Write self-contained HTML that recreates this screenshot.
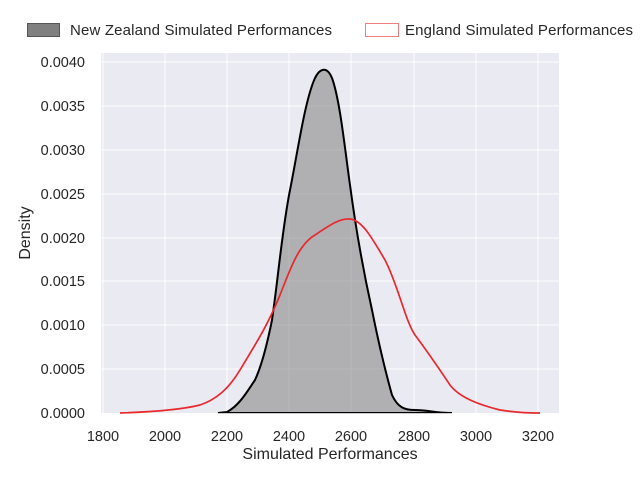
<!DOCTYPE html><html><head><style>body{margin:0;background:#fff}svg{font-family:"Liberation Sans",Arial,sans-serif}</style></head><body>
<svg width="640" height="480" viewBox="0 0 640 480">
<rect x="101" y="53" width="458" height="360" fill="#eaeaf2"/>
<g stroke="#fff" stroke-width="1">
<line x1="103" y1="53" x2="103" y2="413"/><line x1="165" y1="53" x2="165" y2="413"/><line x1="227" y1="53" x2="227" y2="413"/><line x1="289" y1="53" x2="289" y2="413"/><line x1="351" y1="53" x2="351" y2="413"/><line x1="414" y1="53" x2="414" y2="413"/><line x1="476" y1="53" x2="476" y2="413"/><line x1="538" y1="53" x2="538" y2="413"/>
<line x1="101" y1="62" x2="559" y2="62"/><line x1="101" y1="106" x2="559" y2="106"/><line x1="101" y1="150" x2="559" y2="150"/><line x1="101" y1="194" x2="559" y2="194"/><line x1="101" y1="238" x2="559" y2="238"/><line x1="101" y1="281" x2="559" y2="281"/><line x1="101" y1="325" x2="559" y2="325"/><line x1="101" y1="369" x2="559" y2="369"/>
</g>
<path d="M218,413 L227,412 C240,405 248,390 255,380 C262,365 268,340 272,320 C278,280 282,230 290,190 C298,150 305,100 315,78 C320,68 327,66 332,78 C340,100 345,150 350,185 C356,230 362,265 372,310 C378,340 385,370 392,395 C398,408 405,410 415,410 C428,410 435,413 452,413 Z" fill="#7f7f7f" fill-opacity="0.55" stroke="#000" stroke-width="2"/>
<line x1="218" y1="413.5" x2="452" y2="413.5" stroke="#ccc" stroke-width="1"/>
<path d="M120,413 C150,412 180,410 200,405 C215,400 228,390 240,370 C255,345 268,325 280,295 C290,270 298,245 315,235 C330,225 340,218 350,219 C362,220 372,238 385,260 C398,285 405,320 415,335 C430,355 440,370 450,385 C460,398 480,405 500,410 C520,413 530,413 540,413" fill="none" stroke="#e8282d" stroke-width="1.7"/>
<g font-size="14.5" fill="#262626" text-anchor="middle">
<text x="103" y="441">1800</text><text x="165" y="441">2000</text><text x="227" y="441">2200</text><text x="289" y="441">2400</text><text x="351" y="441">2600</text><text x="414" y="441">2800</text><text x="476" y="441">3000</text><text x="538" y="441">3200</text>
<text x="330" y="459" font-size="16">Simulated Performances</text>
<text transform="translate(30,233) rotate(-90)" font-size="16">Density</text>
</g>
<g font-size="14.5" fill="#262626" text-anchor="end">
<text x="85" y="418">0.0000</text><text x="85" y="374">0.0005</text><text x="85" y="330">0.0010</text><text x="85" y="286">0.0015</text><text x="85" y="243">0.0020</text><text x="85" y="199">0.0025</text><text x="85" y="155">0.0030</text><text x="85" y="111">0.0035</text><text x="85" y="67">0.0040</text>
</g>
<rect x="27.5" y="23.5" width="32" height="13" fill="#808080" stroke="#555"/>
<text x="70" y="35" font-size="15" fill="#262626" textLength="262">New Zealand Simulated Performances</text>
<rect x="365.5" y="23.5" width="33" height="13" fill="#fff" stroke="#f08080"/>
<text x="405" y="35" font-size="15" fill="#262626" textLength="228">England Simulated Performances</text>
</svg></body></html>
